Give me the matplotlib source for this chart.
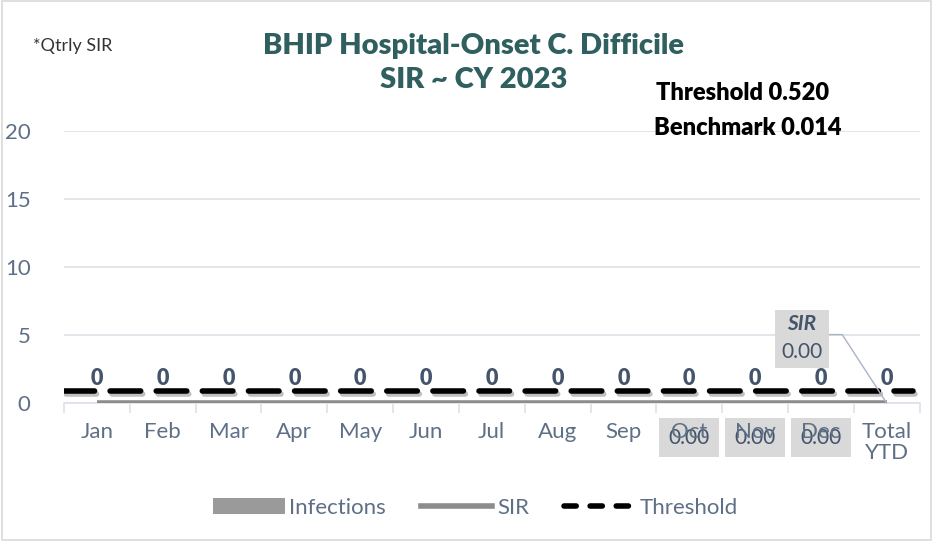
import matplotlib.pyplot as plt
import numpy as np
from matplotlib.lines import Line2D
from matplotlib.patches import Patch, Rectangle
import matplotlib.patheffects as pe

months = ["Jan", "Feb", "Mar", "Apr", "May", "Jun", "Jul", "Aug", "Sep",
          "Oct", "Nov", "Dec", "Total\nYTD"]
infections = [0, 0, 0, 0, 0, 0, 0, 0, 0, 0, 0, 0, 0]
sir = [0, 0, 0, 0, 0, 0, 0, 0, 0, 0, 0, 0, 0]
threshold = [0.9] * 13
qtrly_sir = {9: 0.00, 10: 0.00, 11: 0.00}
ytd_sir = 0.00

tick_col = "#5f6f86"
label_col = "#44546a"
grid_col = "#dde1e8"

plt.rcParams["font.family"] = ["Lato", "DejaVu Sans"]

fig = plt.figure(figsize=(9.33, 5.41), dpi=100)
ax = fig.add_axes([0.0686, 0.255, 0.917, 0.503])

x = np.arange(len(months))
ax.bar(x, infections, width=0.6, color="#9a9a9a", zorder=2)
ax.plot(x, sir, color="#8c8c8c", lw=4, zorder=3, solid_capstyle="butt")
ax.plot(np.r_[-0.5, x, 12.4], [threshold[0]] + threshold + [threshold[-1]],
        color="black", lw=4, ls=(0, (5.5, 2.8)), dash_capstyle="round", zorder=4,
        path_effects=[pe.SimpleLineShadow(offset=(1.5, -2), alpha=0.25), pe.Normal()])

# infection counts above each month
for i, v in enumerate(infections):
    ax.annotate(f"{v}", (i, v), xytext=(0, 10), textcoords="offset points",
                ha="center", va="bottom", fontsize=15.5, fontweight="heavy",
                color=label_col, zorder=5)

# quarterly SIR labels (sit behind the tick labels, as in the original)
for i, v in qtrly_sir.items():
    ax.annotate(f"{v:.2f}", (i, 0), xytext=(0, -25), textcoords="offset points",
                ha="center", va="center", fontsize=15, color=label_col,
                bbox=dict(boxstyle="square,pad=0.45", fc="#d9d9d9", ec="none"),
                zorder=0.3, annotation_clip=False)

# YTD SIR callout
ax.annotate(f" \n{ytd_sir:.2f}", (12, ytd_sir), xytext=(-61, 46),
            textcoords="offset points", ha="center", va="center", fontsize=15,
            color=label_col, linespacing=1.35,
            bbox=dict(boxstyle="square,pad=0.3", fc="#d9d9d9", ec="none"),
            arrowprops=dict(arrowstyle="-", color="#a8b4c4", lw=1,
                            connectionstyle="angle,angleA=0,angleB=123,rad=0",
                            relpos=(1, 0.6), shrinkA=0, shrinkB=0),
            zorder=6)
ax.annotate("SIR", (12, ytd_sir), xytext=(-61, 57), textcoords="offset points",
            ha="center", va="center", fontsize=15, fontweight="bold",
            fontstyle="italic", color=label_col, zorder=7)

ax.set_xlim(-0.5, 12.5)
ax.set_ylim(0, 20)
ax.set_yticks([0, 5, 10, 15, 20])
ax.set_xticks(x)
ax.set_xticklabels(months, linespacing=1.05)
ax.set_xticks(np.arange(-0.5, 13, 1), minor=True)
ax.tick_params(axis="x", which="major", length=0, pad=14, labelsize=16, labelcolor=tick_col)
ax.tick_params(axis="x", which="minor", length=7, color=grid_col, width=1.2)
ax.tick_params(axis="y", length=0, pad=24, labelsize=16, labelcolor=tick_col)
ax.grid(axis="y", color=grid_col, lw=1.2, zorder=0)
ax.set_axisbelow(True)
for s in ["top", "right", "left"]:
    ax.spines[s].set_visible(False)
ax.spines["bottom"].set_color(grid_col)
ax.spines["bottom"].set_linewidth(1.2)

fig.text(0.035, 0.915, "*Qtrly SIR", fontsize=13, color="#333333", va="center")
fig.text(0.508, 0.915, "BHIP Hospital-Onset C. Difficile", fontsize=21,
         fontweight="heavy", color="#2f5f5f", ha="center", va="center")
fig.text(0.508, 0.852, "SIR ~ CY 2023", fontsize=21,
         fontweight="heavy", color="#2f5f5f", ha="center", va="center")
fig.text(0.703, 0.828, "Threshold 0.520", fontsize=17, fontweight="heavy",
         color="black", va="center")
fig.text(0.701, 0.763, "Benchmark 0.014", fontsize=17, fontweight="heavy",
         color="black", va="center")

handles = [Patch(facecolor="#9a9a9a", edgecolor="none"),
           Line2D([], [], color="#8c8c8c", lw=4),
           Line2D([], [], color="black", lw=4, ls=(0, (2.2, 2.5)), dash_capstyle="round")]
fig.legend(handles, ["Infections", "SIR", "Threshold"], loc="center",
           bbox_to_anchor=(0.51, 0.061), ncol=3, frameon=False, fontsize=16,
           labelcolor=tick_col, handlelength=3.2, columnspacing=1.6, handletextpad=0.2)

fig.add_artist(Rectangle((0.002, 0.002), 0.996, 0.996, transform=fig.transFigure,
                         fill=False, ec="#d9d9d9", lw=1.2))

fig.savefig("out.png", dpi=100)
